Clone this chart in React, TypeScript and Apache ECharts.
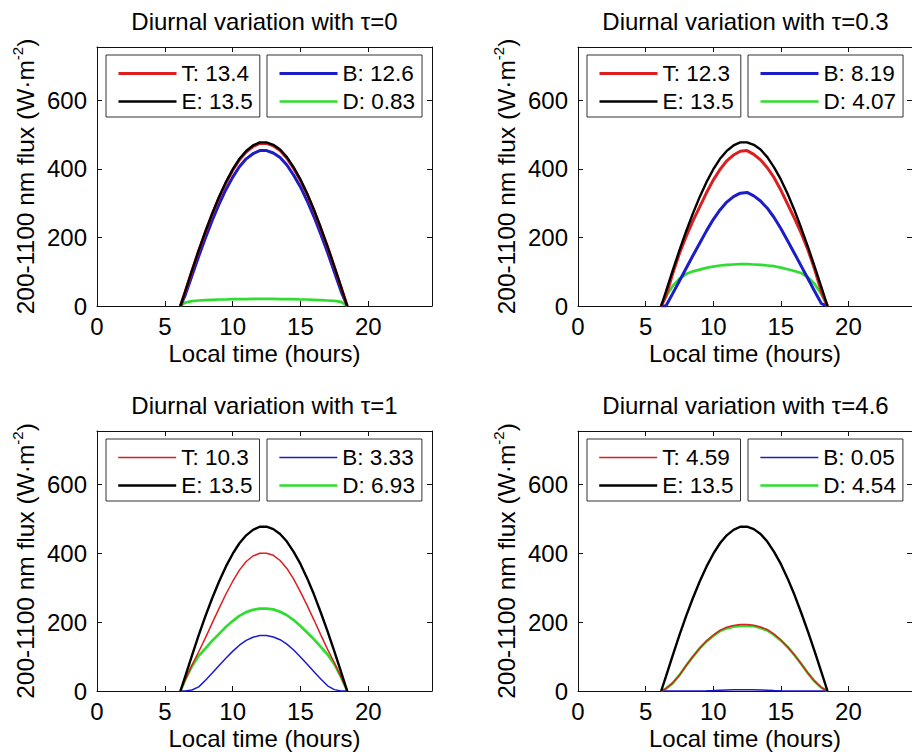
import React, { useEffect, useRef } from 'react';
import * as echarts from 'echarts';

// Local time (hours) sample points
const HOURS = [6.15, 6.5, 7, 7.5, 8, 8.5, 9, 9.5, 10, 10.5, 11, 11.5, 12, 12.5, 13, 13.5, 14, 14.5, 15, 15.5, 16, 16.5, 17, 17.5, 18, 18.45];

// Extraterrestrial flux E (same in every panel)
const E_FLUX = [0, 42, 103, 162, 218, 270, 318, 361, 398, 429, 452, 468, 477, 477, 470, 456, 434, 404, 369, 327, 280, 228, 173, 115, 55, 0];

// tau = 0
const T_TAU0 = [0, 41, 102, 161, 216, 268, 316, 358, 395, 426, 449, 465, 474, 474, 467, 453, 431, 401, 366, 325, 278, 226, 172, 114, 54, 0];
const B_TAU0 = [0, 31, 88, 145, 199, 250, 297, 339, 375, 406, 429, 444, 453, 453, 446, 433, 411, 381, 347, 306, 260, 209, 156, 99, 42, 0];
const D_TAU0 = [0, 10, 14, 16, 17, 18, 19, 19, 20, 20, 20, 21, 21, 21, 21, 20, 20, 20, 19, 19, 18, 17, 16, 15, 12, 0];

// tau = 0.3
const T_TAU03 = [0, 28, 94, 153, 203, 248, 289, 330, 367, 398, 423, 440, 451, 453, 442, 426, 403, 374, 338, 297, 256, 213, 164, 107, 41, 0];
const B_TAU03 = [0, 0, 36, 73, 110, 147, 183, 219, 252, 280, 303, 319, 329, 331, 321, 306, 285, 258, 226, 190, 154, 117, 80, 43, 7, 0];
const D_TAU03 = [0, 28, 58, 80, 93, 101, 106, 111, 115, 118, 120, 121, 122, 122, 121, 120, 118, 116, 112, 107, 102, 96, 84, 64, 34, 0];

// tau = 1
const T_TAU1 = [0, 32, 75, 114, 155, 198, 240, 281, 318, 351, 376, 392, 400, 400, 394, 379, 356, 325, 288, 248, 206, 163, 121, 82, 40, 0];
const B_TAU1 = [0, 0, 3, 12, 31, 52, 74, 95, 115, 133, 147, 156, 161, 161, 157, 149, 136, 119, 99, 78, 56, 35, 15, 4, 0, 0];
const D_TAU1 = [0, 32, 72, 102, 124, 146, 166, 186, 203, 218, 229, 236, 239, 239, 237, 230, 220, 206, 189, 170, 150, 128, 106, 78, 40, 0];

// tau = 4.6
const T_TAU46 = [0, 7, 23, 46, 74, 100, 124, 145, 162, 176, 185, 190, 193, 193, 191, 186, 178, 165, 148, 128, 105, 79, 52, 28, 10, 0];
const B_TAU46 = [0, 0, 0, 0, 0, 0, 0.3, 0.8, 1.5, 2.3, 3, 3.5, 3.8, 3.8, 3.5, 3, 2.3, 1.5, 0.8, 0.3, 0, 0, 0, 0, 0, 0];
const D_TAU46 = [0, 7, 23, 46, 74, 100, 124, 144, 160, 174, 182, 187, 189, 189, 188, 183, 176, 163, 147, 128, 105, 79, 52, 28, 10, 0];

// Panel labels and daily totals shown in the legends
const TAU_LABELS = ['0', '0.3', '1', '4.6'];
const TOTAL_T = ['13.4', '12.3', '10.3', '4.59'];
const TOTAL_E = ['13.5', '13.5', '13.5', '13.5'];
const TOTAL_B = ['12.6', '8.19', '3.33', '0.05'];
const TOTAL_D = ['0.83', '4.07', '6.93', '4.54'];

const X_TICKS = [0, 5, 10, 15, 20];
const Y_TICKS = [0, 200, 400, 600];

const T_SERIES = [T_TAU0, T_TAU03, T_TAU1, T_TAU46];
const B_SERIES = [B_TAU0, B_TAU03, B_TAU1, B_TAU46];
const D_SERIES = [D_TAU0, D_TAU03, D_TAU1, D_TAU46];

const FONT = '"Liberation Sans", Arial, Helvetica, sans-serif';
const RED = '#dc1e1e';
const BLUE = '#1c1cc8';
const GREEN = '#30dc30';
const BLACK = '#000000';

const LAYOUTS = [
  { left: 97, top: 47, width: 335, height: 259 },
  { left: 578, top: 47, width: 335, height: 259 },
  { left: 97, top: 431, width: 335, height: 260 },
  { left: 578, top: 431, width: 335, height: 260 },
];
const X_MAX = 24.7;
const Y_MAX = 755;

function buildOption() {
  const grid: any[] = [];
  const xAxis: any[] = [];
  const yAxis: any[] = [];
  const series: any[] = [];
  const legend: any[] = [];
  const graphic: any[] = [];

  LAYOUTS.forEach((g, i) => {
    grid.push({ left: g.left, top: g.top, width: g.width, height: g.height, containLabel: false });
    const thin = i >= 2;
    const wT = thin ? 1.5 : 3;
    const wB = thin ? 1.5 : 3;
    const wD = 2.7;
    const wE = 2.4;

    const xCommon = {
      type: 'value', gridIndex: i, min: 0, max: X_MAX, interval: 5,
      axisLine: { show: true, onZero: false, lineStyle: { color: '#111', width: 1 } },
      axisTick: { show: true, inside: true, length: 5, lineStyle: { color: '#111', width: 1 } },
      splitLine: { show: false },
    };
    xAxis.push({
      ...xCommon, position: 'bottom',
      axisLabel: {
        show: true, margin: 8, fontSize: 24, color: '#000', fontFamily: FONT, showMaxLabel: false,
        formatter: (v: number) => (X_TICKS.indexOf(v) >= 0 ? String(v) : ''),
      },
      name: 'Local time (hours)', nameLocation: 'middle', nameGap: 33,
      nameTextStyle: { fontSize: 24, lineHeight: 28, color: '#000', fontFamily: FONT },
    });
    xAxis.push({ ...xCommon, position: 'top', axisLabel: { show: false } });

    const yCommon = {
      type: 'value', gridIndex: i, min: 0, max: Y_MAX, interval: 200,
      axisLine: { show: true, onZero: false, lineStyle: { color: '#111', width: 1 } },
      axisTick: { show: true, inside: true, length: 5, lineStyle: { color: '#111', width: 1 } },
      splitLine: { show: false },
    };
    yAxis.push({
      ...yCommon, position: 'left',
      axisLabel: {
        show: true, margin: 10, fontSize: 24, color: '#000', fontFamily: FONT, showMaxLabel: false,
        formatter: (v: number) => (Y_TICKS.indexOf(v) >= 0 ? String(v) : ''),
      },
      name: '{a|200-1100 nm flux (W·m}{s|-2}{a|)}', nameLocation: 'middle', nameGap: 57, nameRotate: 90,
      nameTextStyle: {
        color: '#000', fontFamily: FONT, fontSize: 24, lineHeight: 30,
        rich: {
          a: { fontSize: 24.5, lineHeight: 30, color: '#000', fontFamily: FONT },
          s: { fontSize: 15, lineHeight: 15, verticalAlign: 'top', color: '#000', fontFamily: FONT },
        },
      },
    });
    yAxis.push({ ...yCommon, position: 'right', axisLabel: { show: false } });

    const nT = 'T: ' + TOTAL_T[i];
    const nE = 'E: ' + TOTAL_E[i];
    const nB = 'B: ' + TOTAL_B[i];
    const nD = 'D: ' + TOTAL_D[i];
    const mk = (name: string, arr: number[], color: string, width: number) => ({
      type: 'line', name, xAxisIndex: 2 * i, yAxisIndex: 2 * i,
      data: HOURS.map((h, k) => [h, arr[k]]),
      symbol: 'none', showSymbol: false, clip: true, silent: true,
      color, itemStyle: { color }, lineStyle: { color, width },
    });
    series.push(mk(nD, D_SERIES[i], GREEN, wD));
    series.push(mk(nB, B_SERIES[i], BLUE, wB));
    series.push(mk(nT, T_SERIES[i], RED, wT));
    series.push(mk(nE, E_FLUX, BLACK, wE));

    const legendCommon = {
      orient: 'vertical', top: g.top + 8, padding: [7, 7, 4, 11], itemGap: 5, itemWidth: 58, itemHeight: 20,
      borderColor: '#333', borderWidth: 1, backgroundColor: '#fff', borderRadius: 0,
      selectedMode: false,
      textStyle: { fontSize: 22.5, lineHeight: 22, color: '#000', fontFamily: FONT },
      itemStyle: { opacity: 0 },
    };
    legend.push({
      ...legendCommon, left: g.left + 9,
      data: [
        { name: nT, itemStyle: { opacity: 0 }, lineStyle: { width: wT, color: RED } },
        { name: nE, itemStyle: { opacity: 0 }, lineStyle: { width: wE, color: BLACK } },
      ],
    });
    legend.push({
      ...legendCommon, left: g.left + 170,
      data: [
        { name: nB, itemStyle: { opacity: 0 }, lineStyle: { width: wB, color: BLUE } },
        { name: nD, itemStyle: { opacity: 0 }, lineStyle: { width: wD, color: GREEN } },
      ],
    });

    graphic.push({
      type: 'text', x: g.left + 167.5, y: g.top - 26, silent: true,
      style: {
        text: 'Diurnal variation with τ=' + TAU_LABELS[i],
        font: `24px ${FONT}`, fill: '#000', align: 'center', verticalAlign: 'middle',
      },
    });
  });

  return {
    animation: false,
    backgroundColor: '#ffffff',
    grid, xAxis, yAxis, series, legend, graphic,
  };
}

export default function App() {
  const ref = useRef<HTMLDivElement | null>(null);
  useEffect(() => {
    if (!ref.current) return;
    const chart = echarts.init(ref.current, undefined, { renderer: 'svg' });
    chart.setOption(buildOption() as any);
    return () => chart.dispose();
  }, []);
  return (
    <div
      ref={ref}
      style={{ position: 'absolute', left: 0, top: 0, width: 912, height: 753, background: '#fff' }}
    />
  );
}
